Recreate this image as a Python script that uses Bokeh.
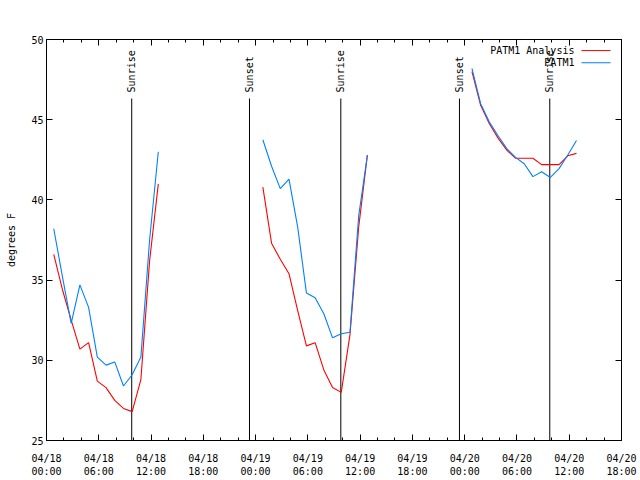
import numpy as np
import pandas as pd
from bokeh.plotting import figure
from bokeh.models import Range1d, FixedTicker, LinearAxis, Label
from bokeh.embed import file_html
from bokeh.resources import INLINE
from bokeh.core.properties import value

START = pd.Timestamp("2024-04-18 00:00")

# observation times (UTC), three separate pieces
times_a = ["2024-04-18 00:50", "2024-04-18 01:50", "2024-04-18 02:50", "2024-04-18 03:50",
           "2024-04-18 04:50", "2024-04-18 05:50", "2024-04-18 06:50", "2024-04-18 07:50",
           "2024-04-18 08:50", "2024-04-18 09:50", "2024-04-18 10:50", "2024-04-18 11:50",
           "2024-04-18 12:50"]
times_b = ["2024-04-19 00:50", "2024-04-19 01:50", "2024-04-19 02:50", "2024-04-19 03:50",
           "2024-04-19 04:50", "2024-04-19 05:50", "2024-04-19 06:50", "2024-04-19 07:50",
           "2024-04-19 08:50", "2024-04-19 09:50", "2024-04-19 10:50", "2024-04-19 11:50",
           "2024-04-19 12:50"]
times_c = ["2024-04-20 00:50", "2024-04-20 01:50", "2024-04-20 02:50", "2024-04-20 03:50",
           "2024-04-20 04:50", "2024-04-20 05:50", "2024-04-20 06:50", "2024-04-20 07:50",
           "2024-04-20 08:50", "2024-04-20 09:50", "2024-04-20 10:50", "2024-04-20 11:50",
           "2024-04-20 12:50"]

# PATM1 Analysis (red)
analysis_a = [36.6, 34.4, 32.5, 30.7, 31.1, 28.7, 28.3, 27.5, 27.0, 26.8, 28.8, 36.2, 41.0]
analysis_b = [40.8, 37.3, 36.3, 35.4, 33.1, 30.9, 31.1, 29.4, 28.3, 28.0, 31.6, 38.3, 42.8]
analysis_c = [48.0, 45.9, 44.75, 43.85, 43.1, 42.6, 42.6, 42.6, 42.2, 42.2, 42.2, 42.75, 42.9]

# PATM1 observed (blue)
observed_a = [38.2, 35.2, 32.3, 34.7, 33.3, 30.2, 29.7, 29.9, 28.4, 29.1, 30.2, 37.5, 43.0]
observed_b = [43.75, 42.1, 40.7, 41.3, 38.3, 34.2, 33.9, 32.9, 31.4, 31.65, 31.75, 39.0, 42.8]
observed_c = [48.2, 46.0, 44.85, 44.0, 43.2, 42.65, 42.25, 41.45, 41.75, 41.4, 41.95, 42.8, 43.7]

# sunrise / sunset events
event_times = ["2024-04-18 09:47", "2024-04-18 23:18", "2024-04-19 09:47",
               "2024-04-19 23:24", "2024-04-20 09:46"]
event_labels = ["Sunrise", "Sunset", "Sunrise", "Sunset", "Sunrise"]

tick_times = ["2024-04-18 00:00", "2024-04-18 06:00", "2024-04-18 12:00", "2024-04-18 18:00",
              "2024-04-19 00:00", "2024-04-19 06:00", "2024-04-19 12:00", "2024-04-19 18:00",
              "2024-04-20 00:00", "2024-04-20 06:00", "2024-04-20 12:00", "2024-04-20 18:00"]
tick_labels = ["04/18\n00:00", "04/18\n06:00", "04/18\n12:00", "04/18\n18:00",
               "04/19\n00:00", "04/19\n06:00", "04/19\n12:00", "04/19\n18:00",
               "04/20\n00:00", "04/20\n06:00", "04/20\n12:00", "04/20\n18:00"]
y_ticks = [25, 30, 35, 40, 45, 50]


def hours(ts):
    return list((pd.to_datetime(ts) - START).total_seconds() / 3600.0)


def joined(*parts):
    out = []
    for i, part in enumerate(parts):
        if i:
            out.append(np.nan)
        out.extend(part)
    return out


x_obs = joined(hours(times_a), hours(times_b), hours(times_c))
y_ana = joined(analysis_a, analysis_b, analysis_c)
y_obs = joined(observed_a, observed_b, observed_c)
ev_x = hours(event_times)
tk_x = hours(tick_times)
x_end = tk_x[-1]
minor = list(np.arange(0, x_end + 0.1, 2.0))

FONT = "DejaVu Sans Mono"
FS = "10px"

p = figure(width=640, height=480, x_range=Range1d(0, x_end), y_range=Range1d(25, 50),
           output_backend="svg", toolbar_location=None,
           min_border_left=46, min_border_right=19, min_border_top=39, min_border_bottom=40)
p.grid.visible = False
p.outline_line_color = "black"
p.outline_line_alpha = 1.0
p.outline_line_width = 1
p.background_fill_color = "white"
p.border_fill_color = "white"

xt = FixedTicker(ticks=tk_x, minor_ticks=minor)
yt = FixedTicker(ticks=y_ticks, minor_ticks=[])


def style(ax):
    ax.axis_line_color = "black"
    ax.major_tick_in = 6
    ax.major_tick_out = 0
    ax.minor_tick_in = 3
    ax.minor_tick_out = 0
    ax.major_tick_line_color = "black"
    ax.minor_tick_line_color = "black"
    ax.major_label_text_font = FONT
    ax.major_label_text_font_size = FS
    ax.major_label_text_color = "black"


xa = p.xaxis[0]
xa.ticker = xt
style(xa)
xa.major_label_overrides = {t: l for t, l in zip(tk_x, tick_labels)}
xa.major_label_standoff = 12

ya = p.yaxis[0]
ya.ticker = yt
style(ya)
ya.major_label_standoff = 3
ya.axis_label = "degrees F"
ya.axis_label_text_font = FONT
ya.axis_label_text_font_size = FS
ya.axis_label_text_font_style = "normal"
ya.axis_label_text_color = "black"
ya.axis_label_standoff = 11

top = LinearAxis(ticker=xt)
style(top)
top.major_label_text_color = None
p.add_layout(top, "above")

right = LinearAxis(ticker=yt)
style(right)
right.major_label_text_color = None
p.add_layout(right, "right")

# sunrise / sunset markers
ev_top = 46.32
p.segment(x0=ev_x, y0=[25] * len(ev_x), x1=ev_x, y1=[ev_top] * len(ev_x),
          line_color="black", line_width=1)
p.text(x=ev_x, y=[46.70] * len(ev_x), text=event_labels, angle=np.pi / 2,
       text_align="left", text_baseline="middle",
       text_font=value(FONT), text_font_size=FS, text_color="black")

p.line(x_obs, y_ana, line_color="#ff0000", line_width=1.1)
p.line(x_obs, y_obs, line_color="#0080ff", line_width=1.1)

# legend (label left, sample right)
leg_names = ["PATM1 Analysis", "PATM1"]
leg_colors = ["#ff0000", "#0080ff"]
leg_y = [49.31, 48.55]
p.text(x=[60.6] * 2, y=leg_y, text=leg_names, text_align="right", text_baseline="middle",
       text_font=value(FONT), text_font_size=FS, text_color="black")
p.segment(x0=[61.41] * 2, y0=leg_y, x1=[64.74] * 2, y1=leg_y, line_color=leg_colors, line_width=1)

p.add_layout(Label(x=x_end / 2, y=51.18, text="Temperature for PATM1 on 2024-Apr-18 (time in UTC)",
                   text_align="center", text_baseline="middle",
                   text_font=FONT, text_font_size=FS, text_color="black"))

open("out.html", "w").write(file_html(p, INLINE))
